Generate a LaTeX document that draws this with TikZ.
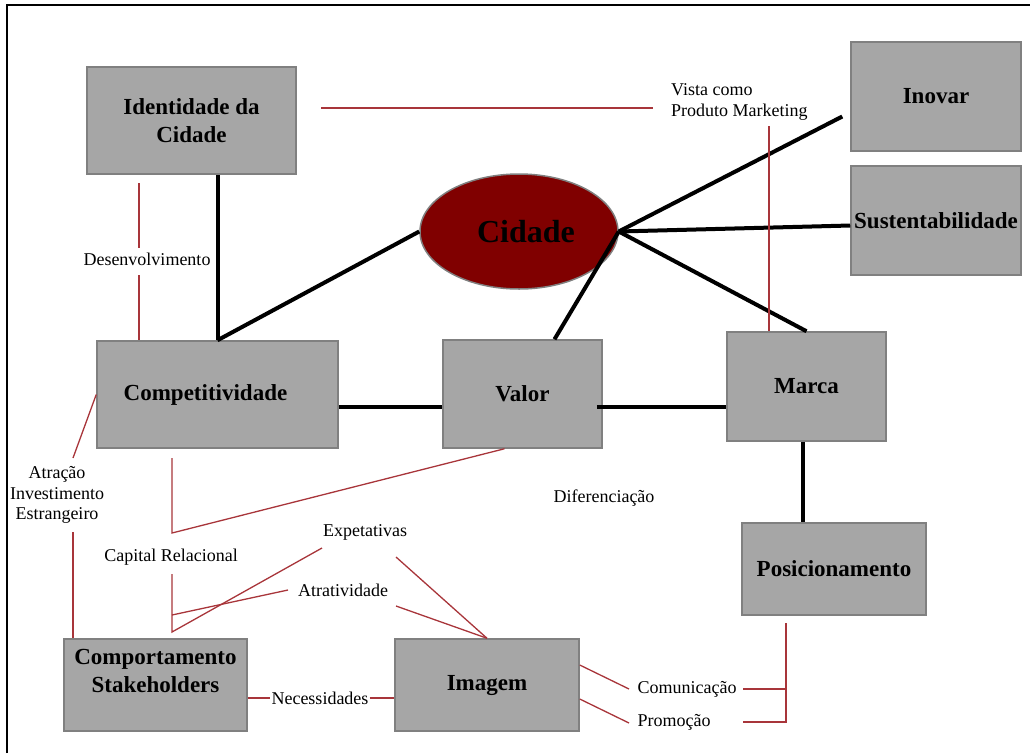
\documentclass[tikz,border=0pt]{standalone}
\usepackage{fontspec}
\setmainfont{Liberation Serif}
\usetikzlibrary{shapes.geometric}
\definecolor{boxgray}{HTML}{A6A6A6}
\definecolor{boxedge}{HTML}{808080}
\definecolor{cityred}{HTML}{800000}
\definecolor{linkred}{HTML}{A8353A}
\tikzset{
  box/.style={draw=boxedge, line width=1.5pt, fill=boxgray, align=center, inner sep=0pt,
    font=\fontsize{23}{28}\selectfont\bfseries},
  tag/.style={font=\fontsize{18}{20.5}\selectfont, align=center, inner sep=1pt},
  strong/.style={line width=4pt, black},
  link/.style={line width=1.3pt, linkred}
}
\begin{document}
\begin{tikzpicture}[x=1pt,y=-1pt]
      \useasboundingbox (0,0) rectangle (1030,753);
      \draw[line width=2.5pt] (7,753) -- (7,5) -- (1030,5);
      % boxes
      \node[box, minimum width=209, minimum height=107] (identidade) at (191.5,120.5) {Identidade da\\Cidade};
      \node[box, minimum width=241, minimum height=107] (compet) at (217.5,394.5) {\raisebox{-7pt}{Competitividade}\hspace{24pt}};
      \node[box, minimum width=159, minimum height=108] (valor) at (522.5,394) {Valor};
      \node[box, minimum width=159, minimum height=109] (marca) at (806.5,386.5) {Marca};
      \node[box, minimum width=170, minimum height=109] (inovar) at (936,96.5) {Inovar};
      \node[box, minimum width=170, minimum height=109] (sustent) at (936,220.5) {Sustentabilidade};
      \node[box, minimum width=184, minimum height=92] (posic) at (834,569) {Posicionamento};
      \node[box, minimum width=183, minimum height=92] (comport) at (155.5,685) {Comportamento\\Stakeholders\\\mbox{}};
      \node[box, minimum width=184, minimum height=92] (imagem) at (487,685) {Imagem};
      \node[ellipse, draw=boxedge, line width=1.5pt, fill=cityred, inner sep=0pt,
        minimum width=198, minimum height=115, font=\fontsize{32}{36}\selectfont\bfseries]
        (cidade) at (519,231.5) {\hspace{14pt}Cidade};
      % labels
      \node[tag, anchor=west, align=left] (vista) at (670,102) {Vista como\\Produto Marketing};
      \node[tag] (desenv) at (147,259) {Desenvolvimento};
      \node[tag] (atracao) at (57,495) {Atração\\Investimento\\Estrangeiro};
      \node[tag] (capital) at (171,557) {Capital Relacional};
      \node[tag] (difer) at (604,498) {Diferenciação};
      \node[tag] (expet) at (365,532) {Expetativas};
      \node[tag] (atrat) at (343,590) {Atratividade};
      \node[tag] (necess) at (320,698) {Necessidades};
      \node[tag] (comun) at (687,689) {Comunicação};
      \node[tag] (promo) at (674,722) {Promoção};
      % free ends
      \coordinate (v1) at (321,108);
      \coordinate (v2) at (653,108);
      \coordinate (v3) at (769,126);
      \coordinate (d1) at (139,183);
      \coordinate (d2) at (139,248);
      \coordinate (d3) at (139,275);
      \coordinate (a1) at (73,458);
      \coordinate (a2) at (73,532);
      \coordinate (c1) at (172,458);
      \coordinate (c2) at (172,533);
      \coordinate (c3) at (172,574);
      \coordinate (c4) at (172,632);
      \coordinate (c5) at (172,615);
      \coordinate (at1) at (288,590);
      \coordinate (at2) at (396,606);
      \coordinate (e1) at (322,548);
      \coordinate (e2) at (396,557);
      \coordinate (m1) at (629,689);
      \coordinate (m2) at (629,723);
      \coordinate (q1) at (786,623);
      \coordinate (q2) at (743,689);
      \coordinate (q3) at (743,722);
      \begin{scope}[strong]
        \draw (compet.north) -- (compet.north |- identidade.south);
        \draw (compet.north) -- (cidade.west);
        \draw (cidade.east) -- ([shift={(-8,20)}]inovar.west);
        \draw (cidade.east) -- ([yshift=-5pt]sustent.west);
        \draw (cidade.east) -- (marca.north);
        \draw (cidade.east) -- ([xshift=32pt]valor.north);
        \draw ([yshift=-12pt]compet.east) -- ([yshift=-12pt]compet.east -| valor.west);
        \draw ([shift={(-6,13)}]valor.east) -- ([yshift=-13pt]valor.east -| marca.west);
        \draw ([xshift=-4pt]marca.south) -- ([xshift=-4pt]marca.south |- posic.north);
      \end{scope}
      \begin{scope}[link]
        \draw (v1) -- (v2);
        \draw (v3) -- (v3 |- marca.north);
        \draw (d1) -- (d2);
        \draw (d3) -- (d3 |- compet.north);
        \draw (compet.west) -- (a1);
        \draw (a2) -- (a2 |- comport.north);
        \draw (c1) -- (c2) -- ([xshift=-18pt]valor.south);
        \draw (c3) -- (c4) -- (e1);
        \draw (c5) -- (at1);
        \draw (e2) -- (imagem.north);
        \draw (at2) -- (imagem.north);
        \draw ([yshift=-13pt]comport.east) -- (necess.west);
        \draw (necess.east) -- (necess.east -| imagem.west);
        \draw ([yshift=20pt]imagem.east) -- (m1);
        \draw ([yshift=-14pt]imagem.east) -- (m2);
        \draw (q1) -- (q1 |- q3) -- (q3);
        \draw (q2) -- (q2 -| q1);
      \end{scope}
    \end{tikzpicture}
\end{document}
